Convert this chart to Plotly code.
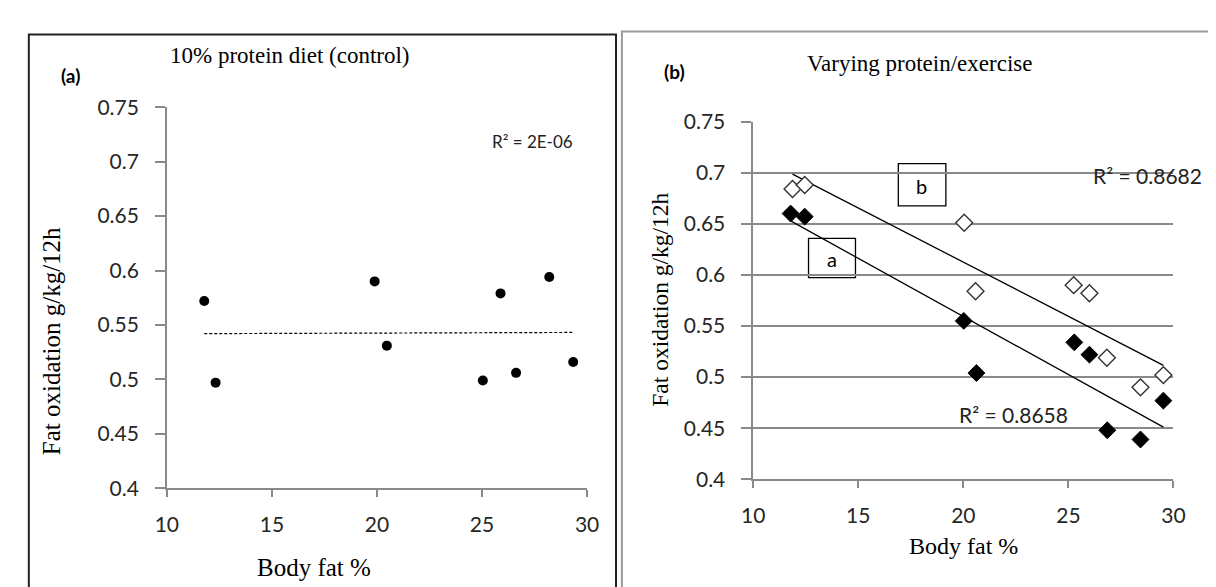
import numpy as np
import plotly.graph_objects as go

# ---------------- data ----------------
# Panel (a): 10% protein diet (control)
control_body_fat = [11.78, 12.32, 19.89, 20.47, 25.04, 25.88, 26.62, 28.20, 29.34]
control_fat_ox = [0.572, 0.497, 0.590, 0.531, 0.499, 0.579, 0.506, 0.594, 0.516]

# Panel (b): varying protein / exercise
open_body_fat = [11.87, 12.45, 20.04, 20.58, 25.25, 26.00, 26.83, 28.43, 29.52]
open_fat_ox = [0.684, 0.688, 0.651, 0.584, 0.590, 0.582, 0.519, 0.490, 0.502]
filled_body_fat = [11.78, 12.45, 20.02, 20.62, 25.28, 26.00, 26.85, 28.43, 29.52]
filled_fat_ox = [0.660, 0.657, 0.555, 0.504, 0.534, 0.522, 0.448, 0.439, 0.477]

x_ticks = [10, 15, 20, 25, 30]
x_tick_labels = ["10", "15", "20", "25", "30"]
y_ticks = [0.4, 0.45, 0.5, 0.55, 0.6, 0.65, 0.7, 0.75]
y_tick_labels = ["0.4", "0.45", "0.5", "0.55", "0.6", "0.65", "0.7", "0.75"]

title_a = "10% protein diet (control)"
title_b = "Varying protein/exercise"
x_title = "Body fat %"
y_title = "Fat oxidation g/kg/12h"
r2_control = "R² = 2E-06"
r2_open = "R² = 0.8682"
r2_filled = "R² = 0.8658"

# ---------------- layout helpers ----------------
W, H = 1216, 587
def px(x):
    return x / W
def py(y):
    return 1 - y / H

def trend(xs, ys):
    k, b = np.polyfit(xs, ys, 1)
    xe = [min(xs), max(xs)]
    return xe, [k * v + b for v in xe]

SERIF = "Liberation Serif"
SANS = "Lato"
AXIS_GRAY = "#8a8a8a"
TICK_COLOR = "#262626"

fig = go.Figure()

# panel (a)
fig.add_trace(go.Scatter(x=control_body_fat, y=control_fat_ox, mode="markers",
                         marker=dict(symbol="circle", size=10, color="black"),
                         xaxis="x", yaxis="y", showlegend=False))
tx, ty = trend(control_body_fat, control_fat_ox)
fig.add_trace(go.Scatter(x=tx, y=ty, mode="lines",
                         line=dict(color="black", width=1.2, dash="3px,2px"),
                         xaxis="x", yaxis="y", showlegend=False))

# panel (b)
tx, ty = trend(open_body_fat, open_fat_ox)
fig.add_trace(go.Scatter(x=tx, y=ty, mode="lines", line=dict(color="black", width=1.3),
                         xaxis="x2", yaxis="y2", showlegend=False))
tx, ty = trend(filled_body_fat, filled_fat_ox)
fig.add_trace(go.Scatter(x=tx, y=ty, mode="lines", line=dict(color="black", width=1.3),
                         xaxis="x2", yaxis="y2", showlegend=False))
fig.add_trace(go.Scatter(x=open_body_fat, y=open_fat_ox, mode="markers",
                         marker=dict(symbol="diamond", size=13, color="white",
                                     line=dict(color="#333333", width=1.4)),
                         xaxis="x2", yaxis="y2", showlegend=False))
fig.add_trace(go.Scatter(x=filled_body_fat, y=filled_fat_ox, mode="markers",
                         marker=dict(symbol="diamond", size=13, color="black",
                                     line=dict(color="black", width=1)),
                         xaxis="x2", yaxis="y2", showlegend=False))

tickfont = dict(family=SANS, size=21, color=TICK_COLOR)
common_x = dict(range=[10, 30], tickvals=x_ticks, ticktext=x_tick_labels,
                showline=True, linecolor=AXIS_GRAY, linewidth=1.5,
                ticks="outside", ticklen=7, tickcolor=AXIS_GRAY, tickwidth=1.5,
                showgrid=False, zeroline=False, tickfont=tickfont,
                ticklabelstandoff=10, fixedrange=True)
common_y = dict(range=[0.4, 0.75], tickvals=y_ticks, ticktext=y_tick_labels,
                showline=True, linecolor=AXIS_GRAY, linewidth=1.5,
                ticks="outside", ticklen=10, tickcolor=AXIS_GRAY, tickwidth=1.5,
                zeroline=False, tickfont=tickfont, ticklabelstandoff=12,
                fixedrange=True)

fig.update_layout(
    width=W, height=H,
    margin=dict(l=0, r=0, t=0, b=0),
    paper_bgcolor="white", plot_bgcolor="white",
    xaxis=dict(domain=[px(149.8), px(578.5)], anchor="y", **common_x),
    yaxis=dict(domain=[py(487), py(89)], anchor="x", showgrid=False, **common_y),
    xaxis2=dict(domain=[px(748), px(1176.7)], anchor="y2", **common_x),
    yaxis2=dict(domain=[py(477.7), py(104)], anchor="x2", showgrid=True,
                gridcolor=AXIS_GRAY, gridwidth=1.5, **common_y),
)

shapes = [
    # panel frames
    dict(type="rect", xref="paper", yref="paper", x0=px(9), x1=px(608), y0=-0.1, y1=py(13),
         line=dict(color="#222222", width=2), fillcolor="rgba(0,0,0,0)"),
    dict(type="rect", xref="paper", yref="paper", x0=px(614), x1=1.1, y0=-0.1, y1=py(10),
         line=dict(color="#9a9a9a", width=2), fillcolor="rgba(0,0,0,0)"),
    # label boxes in panel (b)
    dict(type="rect", xref="paper", yref="paper", x0=px(896), x1=px(944.5), y0=py(192), y1=py(148),
         line=dict(color="black", width=1.3), fillcolor="white", layer="between"),
    dict(type="rect", xref="paper", yref="paper", x0=px(804.4), x1=px(852.3), y0=py(267), y1=py(226),
         line=dict(color="black", width=1.3), fillcolor="white", layer="between"),
]
fig.update_layout(shapes=shapes)

def ann(text, x, y, family, size, color="black", angle=0, bold=False):
    t = f"<b>{text}</b>" if bold else text
    return dict(text=t, x=px(x), y=py(y), xref="paper", yref="paper",
                xanchor="center", yanchor="middle", showarrow=False,
                textangle=angle, font=dict(family=family, size=size, color=color))

annotations = [
    ann("(a)", 52, 56, SANS, 19, bold=True),
    ann(title_a, 275.5, 35, SERIF, 23),
    ann(r2_control, 523, 125, SANS, 17, color="#222222"),
    ann(y_title, 32, 333, SERIF, 25, angle=-90),
    ann(x_title, 299.5, 570, SERIF, 25),
    ann("(b)", 668, 52, SANS, 19, bold=True),
    ann(title_b, 918, 43, SERIF, 23),
    ann(r2_open, 1150, 160, SANS, 21, color="#222222"),
    ann(r2_filled, 1014, 410, SANS, 21, color="#222222"),
    ann(y_title, 653, 290, SERIF, 23.5, angle=-90),
    ann(x_title, 962, 547, SERIF, 24),
    ann("b", 920, 171, SANS, 20),
    ann("a", 828, 248, SANS, 20),
]
fig.update_layout(annotations=annotations)

fig.write_html("out.html")
